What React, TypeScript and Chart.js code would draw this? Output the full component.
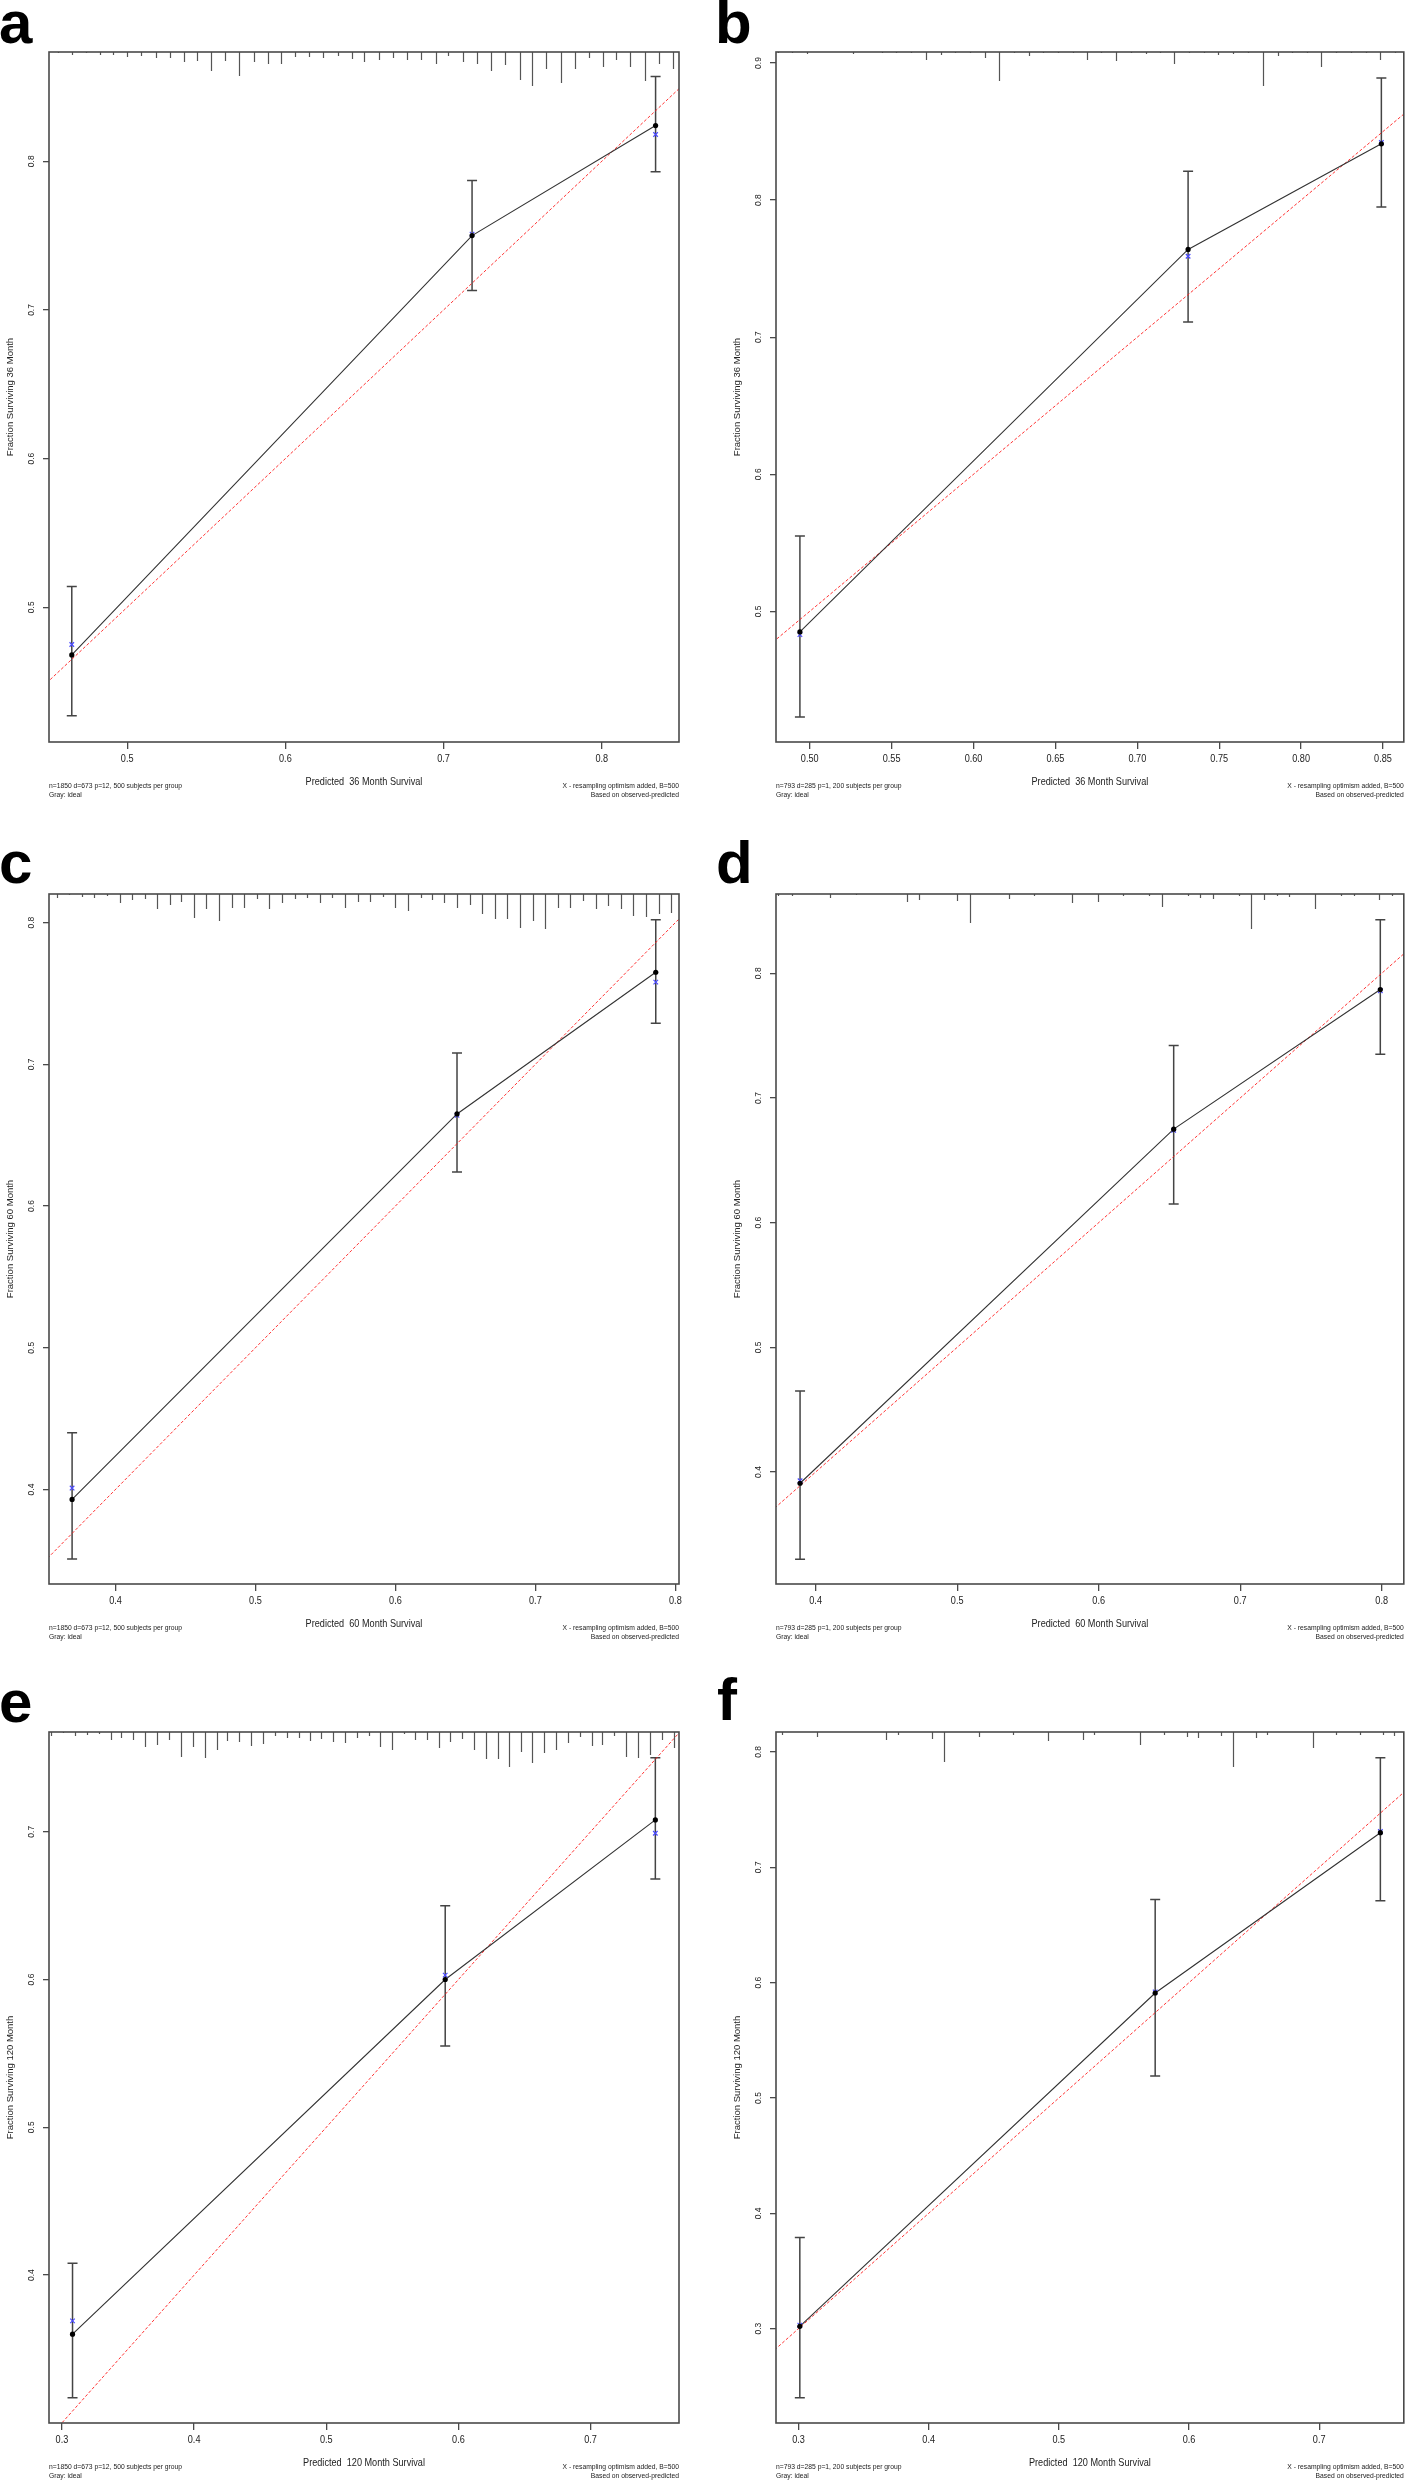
import React, { useEffect, useRef } from "react";
import { Chart, registerables } from "chart.js";
Chart.register(...registerables);

const FONT = "'Liberation Sans', Arial, Helvetica, sans-serif";

// ---------------- Panel a (36 month, training) ----------------
const predA = [0.465, 0.718, 0.834];
const obsA = [0.468, 0.750, 0.824];
const optA = [0.475, 0.751, 0.818];
const loA = [0.427, 0.713, 0.793];
const hiA = [0.514, 0.787, 0.857];
const rugXA = [0.456,0.465,0.474,0.483,0.491,0.500,0.509,0.518,0.527,0.536,0.544,0.553,0.562,0.571,0.580,0.589,0.597,0.606,0.615,0.624,0.633,0.642,0.650,0.659,0.668,0.677,0.686,0.695,0.703,0.712,0.721,0.730,0.739,0.748,0.756,0.765,0.774,0.783,0.792,0.801,0.809,0.818,0.827,0.836,0.845];
const rugFA = [1,3,1,3,3,5,4,6,6,10,9,19,9,24,10,12,12,5,5,6,4,7,10,8,6,8,8,12,4,10,12,19,13,28,34,17,31,17,6,15,8,15,29,12,17];
const xTicksA = [0.5, 0.6, 0.7, 0.8];
const yTicksA = [0.5, 0.6, 0.7, 0.8];

// ---------------- Panel b (36 month, validation) ----------------
const predB = [0.494, 0.731, 0.849];
const obsB = [0.485, 0.764, 0.841];
const optB = [0.483, 0.759, 0.842];
const loB = [0.423, 0.711, 0.795];
const hiB = [0.555, 0.821, 0.889];
const rugXB = [0.4805,0.489,0.4984,0.5262,0.544,0.5528,0.5619,0.571,0.580,0.5887,0.5978,0.6067,0.6155,0.6247,0.6337,0.6426,0.6514,0.6605,0.6692,0.6781,0.6871,0.696,0.705,0.7139,0.7226,0.7315,0.7406,0.7495,0.7586,0.7676,0.7768,0.7856,0.7945,0.8033,0.8122,0.8212,0.8303,0.8394,0.8483,0.8573];
const rugFB = [1,1,2,2,1,1,1,8,3,1,1,6,29,1,4,1,1,1,8,1,9,1,2,1,12,1,1,3,2,1,34,4,1,1,15,1,1,1,8,1];
const xTicksB = [0.5, 0.55, 0.6, 0.65, 0.7, 0.75, 0.8, 0.85];
const yTicksB = [0.5, 0.6, 0.7, 0.8, 0.9];

// ---------------- Panel c (60 month, training) ----------------
const predC = [0.369, 0.644, 0.786];
const obsC = [0.393, 0.665, 0.765];
const optC = [0.401, 0.664, 0.758];
const loC = [0.351, 0.624, 0.729];
const hiC = [0.440, 0.708, 0.802];
const rugXC = [0.358,0.367,0.376,0.385,0.394,0.403,0.412,0.421,0.430,0.439,0.447,0.456,0.465,0.474,0.483,0.492,0.501,0.510,0.519,0.528,0.537,0.546,0.555,0.564,0.573,0.582,0.591,0.600,0.609,0.618,0.626,0.635,0.644,0.653,0.662,0.671,0.680,0.689,0.698,0.707,0.716,0.725,0.734,0.743,0.752,0.761,0.770,0.779,0.788,0.797];
const rugFC = [4,1,3,4,2,9,6,5,15,11,8,24,15,27,14,14,5,15,9,5,4,9,4,14,8,8,3,14,17,4,6,9,14,11,20,25,25,34,27,35,14,14,7,15,12,15,22,23,20,19];
const xTicksC = [0.4, 0.5, 0.6, 0.7, 0.8];
const yTicksC = [0.4, 0.5, 0.6, 0.7, 0.8];

// ---------------- Panel d (60 month, validation) ----------------
const predD = [0.389, 0.653, 0.799];
const obsD = [0.391, 0.675, 0.787];
const optD = [0.393, 0.674, 0.786];
const loD = [0.330, 0.615, 0.735];
const hiD = [0.465, 0.742, 0.843];
const rugXD = [0.3733,0.3831,0.4099,0.4283,0.4643,0.4728,0.5002,0.5092,0.5365,0.5543,0.5814,0.5992,0.6173,0.6355,0.6444,0.6628,0.6718,0.6807,0.6988,0.7077,0.7166,0.7258,0.7348,0.7529,0.7714,0.7802,0.7984,0.8076];
const rugFD = [2,2,4,1,8,6,7,29,5,2,9,8,2,2,13,2,4,5,2,35,6,2,3,15,2,2,6,2];
const xTicksD = [0.4, 0.5, 0.6, 0.7, 0.8];
const yTicksD = [0.4, 0.5, 0.6, 0.7, 0.8];

// ---------------- Panel e (120 month, training) ----------------
const predE = [0.308, 0.590, 0.749];
const obsE = [0.360, 0.600, 0.708];
const optE = [0.369, 0.603, 0.699];
const loE = [0.317, 0.555, 0.668];
const hiE = [0.408, 0.650, 0.750];
const rugXE = [0.292,0.301,0.310,0.319,0.328,0.337,0.345,0.354,0.363,0.372,0.381,0.390,0.399,0.408,0.417,0.425,0.434,0.443,0.452,0.461,0.470,0.479,0.488,0.496,0.505,0.514,0.523,0.532,0.541,0.550,0.559,0.567,0.576,0.585,0.594,0.603,0.612,0.621,0.630,0.638,0.647,0.656,0.665,0.674,0.683,0.692,0.701,0.709,0.718,0.727,0.736,0.745,0.754,0.763];
const rugFE = [4,1,4,3,2,8,6,8,15,13,8,25,15,26,18,9,10,14,12,4,6,6,9,7,10,11,6,4,15,18,2,8,8,16,10,7,18,27,27,35,20,31,21,18,11,5,14,13,4,25,26,23,8,16];
const xTicksE = [0.3, 0.4, 0.5, 0.6, 0.7];
const yTicksE = [0.4, 0.5, 0.6, 0.7];

// ---------------- Panel f (120 month, validation) ----------------
const predF = [0.301, 0.574, 0.747];
const obsF = [0.302, 0.591, 0.730];
const optF = [0.303, 0.592, 0.731];
const loF = [0.240, 0.519, 0.671];
const hiF = [0.379, 0.672, 0.795];
const rugXF = [0.2875,0.3145,0.3675,0.3764,0.4027,0.4117,0.4384,0.4646,0.4917,0.5183,0.5273,0.5626,0.5806,0.5982,0.6072,0.6249,0.6335,0.6515,0.6601,0.6954,0.7131,0.7311,0.7487,0.7577];
const rugFF = [3,5,8,3,7,30,5,3,9,8,3,13,3,5,6,4,35,6,3,16,3,3,3,4];
const xTicksF = [0.3, 0.4, 0.5, 0.6, 0.7];
const yTicksF = [0.3, 0.4, 0.5, 0.6, 0.7, 0.8];

const noteTrain = "n=1850 d=673 p=12, 500 subjects per group";
const noteValid = "n=793 d=285 p=1, 200 subjects per group";

interface PanelDef {
  letter: string;
  cell: { x: number; y: number; w: number; h: number };
  box: { l: number; t: number; r: number; b: number };
  letterPos: [number, number];
  xr: [number, number];
  yr: [number, number];
  xTicks: number[];
  yTicks: number[];
  xDigits: number;
  pred: number[]; obs: number[]; opt: number[]; lo: number[]; hi: number[];
  rugX: number[]; rugF: number[];
  month: string;
  note: string;
}

const panels: PanelDef[] = [
  { letter: "a", cell: { x: 0, y: 0, w: 700, h: 840 }, box: { l: 49, t: 52, r: 679, b: 742 }, letterPos: [-1, 43],
    xr: [0.4506, 0.8488], yr: [0.4094, 0.8735], xTicks: xTicksA, yTicks: yTicksA, xDigits: 1,
    pred: predA, obs: obsA, opt: optA, lo: loA, hi: hiA, rugX: rugXA, rugF: rugFA, month: "36", note: noteTrain },
  { letter: "b", cell: { x: 700, y: 0, w: 709, h: 840 }, box: { l: 776, t: 52, r: 1406, b: 742 }, letterPos: [15, 43],
    xr: [0.4794, 0.8627], yr: [0.4047, 0.908], xTicks: xTicksB, yTicks: yTicksB, xDigits: 2,
    pred: predB, obs: obsB, opt: optB, lo: loB, hi: hiB, rugX: rugXB, rugF: rugFB, month: "36", note: noteValid },
  { letter: "c", cell: { x: 0, y: 840, w: 700, h: 830 }, box: { l: 49, t: 894, r: 679, b: 1584 }, letterPos: [-1, 43],
    xr: [0.3525, 0.8026], yr: [0.3333, 0.8202], xTicks: xTicksC, yTicks: yTicksC, xDigits: 1,
    pred: predC, obs: obsC, opt: optC, lo: loC, hi: hiC, rugX: rugXC, rugF: rugFC, month: "60", note: noteTrain },
  { letter: "d", cell: { x: 700, y: 840, w: 709, h: 830 }, box: { l: 776, t: 894, r: 1406, b: 1584 }, letterPos: [16, 43],
    xr: [0.372, 0.8156], yr: [0.3102, 0.8636], xTicks: xTicksD, yTicks: yTicksD, xDigits: 1,
    pred: predD, obs: obsD, opt: optD, lo: loD, hi: hiD, rugX: rugXD, rugF: rugFD, month: "60", note: noteValid },
  { letter: "e", cell: { x: 0, y: 1670, w: 700, h: 811 }, box: { l: 49, t: 1732, r: 679, b: 2423 }, letterPos: [-1, 52],
    xr: [0.2902, 0.7669], yr: [0.2999, 0.7675], xTicks: xTicksE, yTicks: yTicksE, xDigits: 1,
    pred: predE, obs: obsE, opt: optE, lo: loE, hi: hiE, rugX: rugXE, rugF: rugFE, month: "120", note: noteTrain },
  { letter: "f", cell: { x: 700, y: 1670, w: 709, h: 811 }, box: { l: 776, t: 1732, r: 1406, b: 2423 }, letterPos: [17, 50],
    xr: [0.2827, 0.765], yr: [0.2182, 0.8173], xTicks: xTicksF, yTicks: yTicksF, xDigits: 1,
    pred: predF, obs: obsF, opt: optF, lo: loF, hi: hiF, rugX: rugXF, rugF: rugFF, month: "120", note: noteValid },
];

const Y_AXIS_W = 40;
const X_AXIS_H = 55;
const AXIS_COLOR = "#4a4a4a";
const TEXT_COLOR = "#222";
const CONDENSE = 0.87;

function condensedText(ctx: CanvasRenderingContext2D, text: string, x: number, y: number, sx: number) {
  ctx.save();
  ctx.translate(x, y);
  ctx.scale(sx, 1);
  ctx.fillText(text, 0, 0);
  ctx.restore();
}

function PanelChart({ p }: { p: PanelDef }) {
  const ref = useRef<HTMLCanvasElement>(null);
  useEffect(() => {
    const canvas = ref.current;
    if (!canvas) return;
    const pad = {
      left: p.box.l - p.cell.x - Y_AXIS_W,
      top: p.box.t - p.cell.y,
      right: p.cell.x + p.cell.w - p.box.r,
      bottom: p.cell.y + p.cell.h - p.box.b - X_AXIS_H,
    };
    const calPlugin = {
      id: "calib_" + p.letter,
      beforeDatasetsDraw(chart: any) {
        const ctx = chart.ctx;
        const xs = chart.scales.x, ys = chart.scales.y;
        ctx.save();
        ctx.strokeStyle = "#444";
        ctx.lineWidth = 1.5;
        p.pred.forEach((x, i) => {
          const px = xs.getPixelForValue(x);
          const y1 = ys.getPixelForValue(p.lo[i]);
          const y2 = ys.getPixelForValue(p.hi[i]);
          ctx.beginPath();
          ctx.moveTo(px, y1); ctx.lineTo(px, y2);
          ctx.moveTo(px - 5, y1); ctx.lineTo(px + 5, y1);
          ctx.moveTo(px - 5, y2); ctx.lineTo(px + 5, y2);
          ctx.stroke();
        });
        ctx.restore();
      },
      afterDatasetsDraw(chart: any) {
        const ctx = chart.ctx;
        const ca = chart.chartArea;
        const xs = chart.scales.x;
        ctx.save();
        // rug of predicted risk distribution along the top
        ctx.strokeStyle = "#555";
        ctx.lineWidth = 1.2;
        p.rugX.forEach((x, i) => {
          const px = Math.round(xs.getPixelForValue(x)) + 0.5;
          ctx.beginPath();
          ctx.moveTo(px, ca.top);
          ctx.lineTo(px, ca.top + p.rugF[i]);
          ctx.stroke();
        });
        // frame
        ctx.strokeStyle = AXIS_COLOR;
        ctx.lineWidth = 1.6;
        ctx.strokeRect(ca.left, ca.top, ca.right - ca.left, ca.bottom - ca.top);
        ctx.restore();
      },
      afterDraw(chart: any) {
        const ctx = chart.ctx;
        const ca = chart.chartArea;
        const xs = chart.scales.x, ys = chart.scales.y;
        ctx.save();
        ctx.fillStyle = TEXT_COLOR;
        // x tick labels
        ctx.font = `10.5px ${FONT}`;
        ctx.textAlign = "center";
        ctx.textBaseline = "middle";
        p.xTicks.forEach((v) => {
          condensedText(ctx, v.toFixed(p.xDigits), xs.getPixelForValue(v), ca.bottom + 17.5, CONDENSE);
        });
        // y tick labels (rotated)
        ctx.font = `8.5px ${FONT}`;
        p.yTicks.forEach((v) => {
          ctx.save();
          ctx.translate(ca.left - 17.5, ys.getPixelForValue(v));
          ctx.rotate(-Math.PI / 2);
          ctx.fillText(v.toFixed(1), 0, 0);
          ctx.restore();
        });
        // axis titles
        ctx.font = `10.5px ${FONT}`;
        condensedText(ctx, `Predicted  ${p.month} Month Survival`, (ca.left + ca.right) / 2, ca.bottom + 40, CONDENSE);
        ctx.font = `9.5px ${FONT}`;
        ctx.save();
        ctx.translate(ca.left - 39, (ca.top + ca.bottom) / 2);
        ctx.rotate(-Math.PI / 2);
        ctx.fillText(`Fraction Surviving ${p.month} Month`, 0, 0);
        ctx.restore();
        // footnotes
        ctx.font = `7.5px ${FONT}`;
        ctx.textAlign = "left";
        condensedText(ctx, p.note, ca.left, ca.bottom + 43.5, 0.9);
        condensedText(ctx, "Gray: ideal", ca.left, ca.bottom + 52.5, 0.9);
        ctx.textAlign = "right";
        condensedText(ctx, "X - resampling optimism added, B=500", ca.right, ca.bottom + 43.5, 0.9);
        condensedText(ctx, "Based on observed-predicted", ca.right, ca.bottom + 52.5, 0.9);
        // panel letter
        ctx.fillStyle = "#000";
        ctx.font = `bold 60px ${FONT}`;
        ctx.textAlign = "left";
        ctx.textBaseline = "alphabetic";
        ctx.fillText(p.letter, p.letterPos[0], p.letterPos[1]);
        ctx.restore();
      },
    };

    const pts = p.pred.map((x, i) => ({ x, y: p.obs[i] }));
    const optPts = p.pred.map((x, i) => ({ x, y: p.opt[i] }));

    const chart = new Chart(canvas, {
      type: "scatter",
      data: {
        datasets: [
          { data: pts, pointStyle: "circle", pointRadius: 2.6, backgroundColor: "#000", borderWidth: 0 } as any,
          { data: optPts, pointStyle: "crossRot", pointRadius: 3.2, borderColor: "#4b4bff", backgroundColor: "transparent", borderWidth: 1.2 } as any,
          { data: pts, showLine: true, borderColor: "#333", borderWidth: 1.1, pointRadius: 0 } as any,
          { data: [{ x: 0, y: 0 }, { x: 1, y: 1 }], showLine: true, borderColor: "rgba(255,30,30,0.9)", borderDash: [3, 2], borderWidth: 1, pointRadius: 0 } as any,
        ],
      },
      options: {
        responsive: false,
        animation: false,
        devicePixelRatio: 1,
        events: [],
        layout: { padding: pad },
        plugins: { legend: { display: false }, tooltip: { enabled: false }, title: { display: false } },
        scales: {
          x: {
            type: "linear",
            min: p.xr[0],
            max: p.xr[1],
            afterBuildTicks: (s: any) => { s.ticks = p.xTicks.map((v) => ({ value: v })); },
            afterFit: (s: any) => { s.height = X_AXIS_H; },
            ticks: { display: false },
            grid: { display: true, drawOnChartArea: false, drawTicks: true, tickLength: 7, color: AXIS_COLOR, lineWidth: 1.3 },
            border: { display: false },
          },
          y: {
            type: "linear",
            min: p.yr[0],
            max: p.yr[1],
            afterBuildTicks: (s: any) => { s.ticks = p.yTicks.map((v) => ({ value: v })); },
            afterFit: (s: any) => { s.width = Y_AXIS_W; },
            ticks: { display: false },
            grid: { display: true, drawOnChartArea: false, drawTicks: true, tickLength: 6, color: AXIS_COLOR, lineWidth: 1.3 },
            border: { display: false },
          },
        },
      } as any,
      plugins: [calPlugin],
    });
    return () => chart.destroy();
  }, [p]);
  return (
    <canvas
      ref={ref}
      width={p.cell.w}
      height={p.cell.h}
      style={{ position: "absolute", left: p.cell.x, top: p.cell.y, width: p.cell.w, height: p.cell.h }}
    />
  );
}

export default function App() {
  return (
    <div style={{ position: "absolute", left: 0, top: 0, width: 1409, height: 2481, background: "#fff", overflow: "hidden" }}>
      {panels.map((p) => (
        <PanelChart key={p.letter} p={p} />
      ))}
    </div>
  );
}
